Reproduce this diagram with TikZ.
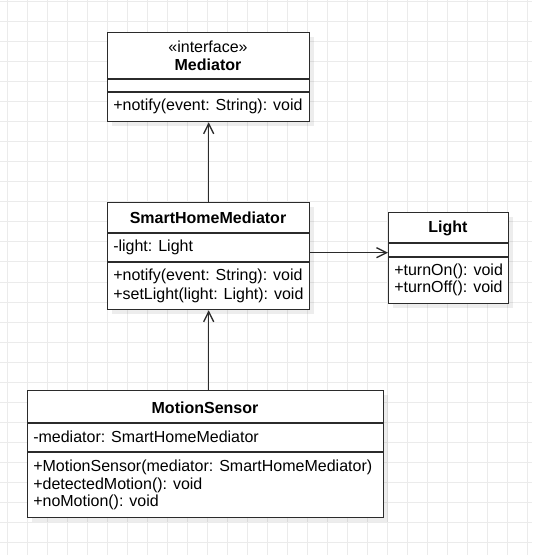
\documentclass[tikz,border=0pt]{standalone}
\usepackage{fontspec}
\setmainfont{Liberation Sans}
\usetikzlibrary{positioning, arrows.meta, shadows}
\definecolor{gridgray}{HTML}{EBEBEB}
\definecolor{umlline}{HTML}{2B2B2B}
\tikzset{x=0.75pt, y=-0.75pt,
  umlbox/.style={draw=umlline, fill=white, line width=1pt, anchor=north west, inner sep=0pt,
    drop shadow={shadow xshift=3pt, shadow yshift=-3pt, fill=black, opacity=0.07}},
  member/.style={anchor=west, inner sep=0pt, font=\fontsize{12pt}{14pt}\selectfont},
  stereo/.style={inner sep=0pt, font=\fontsize{12pt}{14pt}\selectfont},
  classname/.style={inner sep=0pt, font=\fontsize{12pt}{14pt}\selectfont\bfseries},
  divider/.style={umlline, line width=1pt},
  uarrow/.style={draw=umlline, line width=1pt, -{Straight Barb[length=7.5pt, width=7.5pt]}},
  gridline/.style={gridgray, line width=0.75pt}}

\begin{document}
\begin{tikzpicture}
    \useasboundingbox (0,0) rectangle (532,555);
    % background grid
    \foreach \gx in {7,27,...,527} \draw[gridline] (\gx,0) -- (\gx,555);
    \foreach \gy in {2,22,...,542} \draw[gridline] (0,\gy) -- (532,\gy);

    % Mediator
    \node[umlbox, minimum width=151.5pt, minimum height=66.75pt] (mediator) at (107,32) {};
    \node[stereo] (mediator-stereo) at (208,47) {«interface»};
    \node[classname] (mediator-name) at (208,65) {Mediator};
    \draw[divider] (107,79) -- (309,79);
    \draw[divider] (107,92) -- (309,92);
    \node[member] (mediator-notify) at (113,106) {+notify(event: String): void};

    % SmartHomeMediator
    \node[umlbox, minimum width=151.5pt, minimum height=80.25pt] (smarthome) at (107,202) {};
    \node[classname] (smarthome-name) at (208,218) {SmartHomeMediator};
    \draw[divider] (107,233) -- (309,233);
    \node[member] (smarthome-light) at (113,247) {-light: Light};
    \draw[divider] (107,262) -- (309,262);
    \node[member] (smarthome-notify) at (113,276) {+notify(event: String): void};
    \node[member] (smarthome-setlight) at (113,295) {+setLight(light: Light): void};

    % Light
    \node[umlbox, minimum width=90pt, minimum height=68.25pt] (light) at (388,212) {};
    \node[classname] (light-name) at (448,228) {Light};
    \draw[divider] (388,243) -- (508,243);
    \draw[divider] (388,257) -- (508,257);
    \node[member] (light-on) at (394,271) {+turnOn(): void};
    \node[member] (light-off) at (394,288) {+turnOff(): void};

    % MotionSensor
    \node[umlbox, minimum width=267pt, minimum height=95.25pt] (motion) at (27,390) {};
    \node[classname] (motion-name) at (205,408) {MotionSensor};
    \draw[divider] (27,423) -- (383,423);
    \node[member] (motion-mediator) at (33,437) {-mediator: SmartHomeMediator};
    \draw[divider] (27,452) -- (383,452);
    \node[member] (motion-ctor) at (33,467) {+MotionSensor(mediator: SmartHomeMediator)};
    \node[member] (motion-detected) at (33,485) {+detectedMotion(): void};
    \node[member] (motion-nomotion) at (33,502) {+noMotion(): void};

    % connectors
    \draw[uarrow] (smarthome.north) -- (mediator.south);
    \draw[uarrow] (smarthome.south |- motion.north) -- (smarthome.south);
    \draw[uarrow] ([yshift=2.6pt]smarthome.east) -- ([yshift=2.6pt]smarthome.east -| light.west);
\end{tikzpicture}
\end{document}
